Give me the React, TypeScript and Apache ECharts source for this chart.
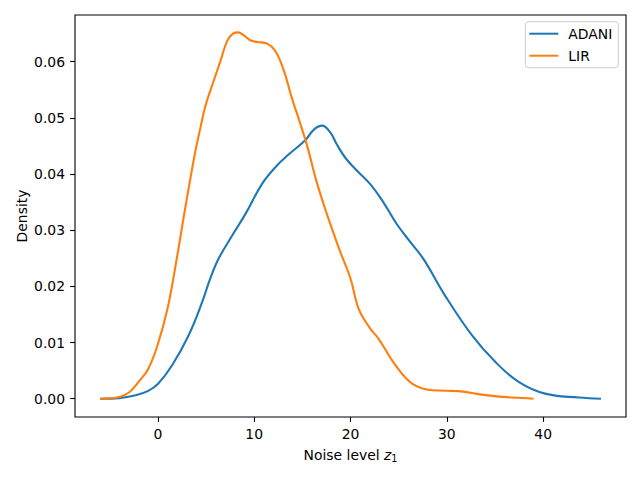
import React, { useEffect, useRef } from "react";
import * as echarts from "echarts";

// ---- data ----
const seriesNames = ["ADANI", "LIR"];

const adaniPoints: [number, number][] = [
  [-6, 0], [-4, 0.0001], [-2.3, 0.0006], [-1, 0.0014], [0, 0.0026], [1.5, 0.006],
  [3.2, 0.0113], [4.6, 0.0172], [5.4, 0.0212], [6.3, 0.0249], [7.7, 0.029],
  [9.1, 0.0329], [10.8, 0.0382], [12.2, 0.0412], [13.6, 0.0435], [15.3, 0.046],
  [16.2, 0.0479], [17.05, 0.0486], [17.9, 0.0474], [18.6, 0.0452], [19.5, 0.0428],
  [20.5, 0.0409], [22.05, 0.0382], [23.4, 0.035], [24.8, 0.0311], [26.2, 0.0279],
  [27.6, 0.0248], [29.8, 0.0184], [32.6, 0.0113], [35.0, 0.0066], [37.45, 0.003],
  [40.2, 0.0009], [43.7, 0.0002], [46, 0],
];

const lirPoints: [number, number][] = [
  [-6, 0], [-5, 0.00005], [-4, 0.0003], [-3, 0.0011], [-2, 0.003], [-1, 0.0053],
  [0, 0.0097], [1, 0.016], [1.84, 0.0237], [2.8, 0.0335], [3.46, 0.04], [3.9, 0.0441],
  [4.43, 0.0483], [4.95, 0.0522], [5.8, 0.0566], [6.5, 0.0601], [7.2, 0.0637], [7.8, 0.065],
  [8.34, 0.0652], [8.9, 0.0647], [9.6, 0.0638], [10.3, 0.0635], [11.35, 0.0632],
  [12.2, 0.0619], [13.1, 0.0583], [13.9, 0.0536], [14.8, 0.0489], [15.5, 0.045],
  [16.5, 0.0385], [17.6, 0.0326], [18.95, 0.0261], [20.0, 0.0214], [20.85, 0.016],
  [22.0, 0.0126], [22.9, 0.0107], [24.65, 0.006], [26.4, 0.0027], [28.5, 0.0015],
  [31.2, 0.00135], [34.0, 0.00064], [36.8, 0.0002], [39, 0],
];

const xTicks = [0, 10, 20, 30, 40];
const yTicks = [0, 0.01, 0.02, 0.03, 0.04, 0.05, 0.06];
const xRange = [-8.6, 48.6];
const yRange = [-0.00326, 0.0683];

const colors = ["#1f77b4", "#ff7f0e"];
const FONT = "DejaVu Sans";
const FS = 13.9;

export default function App() {
  const ref = useRef<HTMLDivElement>(null);
  useEffect(() => {
    if (!ref.current) return;
    const chart = echarts.init(ref.current, undefined, { renderer: "svg" });
    chart.setOption({
      animation: false,
      backgroundColor: "#ffffff",
      textStyle: { fontFamily: FONT },
      grid: {
        left: 75,
        right: 14,
        top: 15,
        bottom: 63,
        show: true,
        borderColor: "#000000",
        borderWidth: 1.1,
        backgroundColor: "transparent",
      },
      legend: {
        orient: "vertical",
        right: 21.7,
        top: 21.7,
        data: seriesNames,
        icon: "rect",
        itemWidth: 29,
        itemHeight: 2,
        itemGap: 6,
        padding: [4, 6, 4, 4],
        borderColor: "#cccccc",
        borderWidth: 1,
        borderRadius: 3,
        backgroundColor: "rgba(255,255,255,0.8)",
        textStyle: {
          fontFamily: FONT,
          fontSize: FS,
          color: "#000000",
          lineHeight: 16,
          padding: [0, 0, 0, 5],
        },
      },
      xAxis: {
        type: "value",
        min: xRange[0],
        max: xRange[1],
        name: "Noise level {i|z}{s|1}",
        nameLocation: "middle",
        nameGap: 30,
        nameMoveOverlap: false,
        nameTextStyle: {
          fontFamily: FONT,
          fontSize: FS,
          color: "#000000",
          lineHeight: 16,
          rich: {
            i: { fontFamily: FONT, fontSize: FS, fontStyle: "italic", color: "#000000", lineHeight: 16 },
            s: { fontFamily: FONT, fontSize: 9.7, color: "#000000", lineHeight: 6, verticalAlign: "bottom" },
          },
        },
        axisLine: { show: false, onZero: false },
        axisTick: {
          show: true,
          customValues: xTicks,
          length: 4.9,
          lineStyle: { color: "#000000", width: 1.1 },
        },
        axisLabel: {
          customValues: xTicks,
          margin: 10,
          fontFamily: FONT,
          fontSize: FS,
          color: "#000000",
        },
        splitLine: { show: false },
      },
      yAxis: {
        type: "value",
        min: yRange[0],
        max: yRange[1],
        name: "Density",
        nameLocation: "middle",
        nameRotate: 90,
        nameGap: 46,
        nameMoveOverlap: false,
        nameTextStyle: { fontFamily: FONT, fontSize: FS, color: "#000000" },
        axisLine: { show: false, onZero: false },
        axisTick: {
          show: true,
          customValues: yTicks,
          length: 4.9,
          lineStyle: { color: "#000000", width: 1.1 },
        },
        axisLabel: {
          customValues: yTicks,
          margin: 10,
          fontFamily: FONT,
          fontSize: FS,
          color: "#000000",
          formatter: (v: number) => v.toFixed(2),
        },
        splitLine: { show: false },
      },
      series: [
        {
          name: seriesNames[0],
          type: "line",
          data: adaniPoints,
          smooth: 0.4,
          showSymbol: false,
          symbol: "none",
          lineStyle: { color: colors[0], width: 2.1 },
          itemStyle: { color: colors[0] },
          z: 3,
        },
        {
          name: seriesNames[1],
          type: "line",
          data: lirPoints,
          smooth: 0.4,
          showSymbol: false,
          symbol: "none",
          lineStyle: { color: colors[1], width: 2.1 },
          itemStyle: { color: colors[1] },
          z: 4,
        },
      ],
    });
    return () => chart.dispose();
  }, []);
  return (
    <div
      ref={ref}
      style={{ position: "absolute", left: 0, top: 0, width: 640, height: 480 }}
    />
  );
}
